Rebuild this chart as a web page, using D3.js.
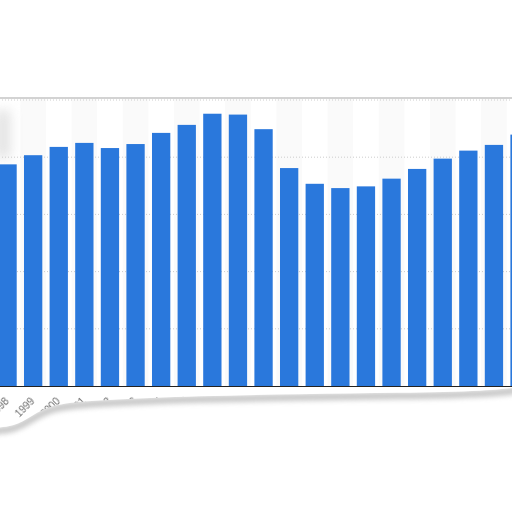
<!DOCTYPE html>
<html>
<head>
<meta charset="utf-8">
<script src="https://d3js.org/d3.v7.min.js"></script>
<style>
    body { margin: 0; background: #fff; }
    svg { display: block; }
    .tick-label { font-family: "Liberation Sans", Arial, sans-serif; font-size: 10px; fill: #666; }
</style>
</head>
<body>
<div id="chart"></div>
<script>
// categories (years) and bar values
const years = d3.range(1998, 2019).map(String);
const values = [77.5, 80.7, 83.6, 85.0, 83.2, 84.6, 88.5, 91.3, 95.2, 94.9, 89.8,
                76.2, 70.7, 69.2, 69.8, 72.5, 75.9, 79.5, 82.3, 84.3, 87.9];
const gridTicks = [0, 20, 40, 60, 80, 100];

const W = 512, H = 512;
const paperTop = 98, baseY = 386;

const svg = d3.select("#chart").append("svg")
    .attr("width", W)
    .attr("height", H);

const defs = svg.append("defs");
defs.append("filter").attr("id", "blur").attr("x", "-20%").attr("y", "-100%")
    .attr("width", "140%").attr("height", "300%")
    .append("feGaussianBlur").attr("stdDeviation", 2.8);
defs.append("filter").attr("id", "soft")
    .append("feGaussianBlur").attr("stdDeviation", 0.7);
defs.append("filter").attr("id", "blob").attr("x", "-100%").attr("y", "-100%")
    .attr("width", "300%").attr("height", "300%")
    .append("feGaussianBlur").attr("stdDeviation", 6);

// torn bottom edge of the paper (decoration only)
const edge = [[-10, 428], [14, 427], [32, 416], [52, 404], [100, 400], [200, 396],
              [300, 394], [400, 393], [490, 391], [520, 387]];
const edgeLine = d3.line().curve(d3.curveBasis);
const paperPath = "M-10," + paperTop + "L520," + paperTop + "L" +
    edgeLine(edge.slice().reverse()).slice(1) + "Z";

defs.append("clipPath").attr("id", "paper").append("path").attr("d", paperPath);

// shadows
svg.append("path")
    .attr("d", edgeLine(edge.map(d => [d[0], d[1] + 3])))
    .attr("fill", "none")
    .attr("stroke", "#9a9a9a")
    .attr("stroke-width", 7)
    .attr("opacity", 0.55)
    .attr("filter", "url(#blur)");
svg.append("line")
    .attr("x1", -10).attr("x2", 520)
    .attr("y1", paperTop - 1).attr("y2", paperTop - 1)
    .attr("stroke", "#b0b0b0")
    .attr("stroke-width", 3)
    .attr("filter", "url(#blur)");

const g = svg.append("g").attr("clip-path", "url(#paper)");

g.append("rect")
    .attr("x", -10).attr("y", paperTop - 2)
    .attr("width", 530).attr("height", 340)
    .attr("fill", "#fff");

const x = d3.scaleBand()
    .domain(years)
    .range([-5.25, -5.25 + 21 * 25.6])
    .paddingInner(0.285)
    .paddingOuter(0.1425);

const y = d3.scaleLinear()
    .domain([0, 100])
    .range([baseY, 100]);

// alternating column bands
g.selectAll("rect.band")
    .data(years.filter((d, i) => i % 2 === 1))
    .enter().append("rect")
    .attr("class", "band")
    .attr("x", d => x(d) - x.step() * x.paddingInner() / 2)
    .attr("y", paperTop)
    .attr("width", x.step())
    .attr("height", baseY - paperTop)
    .attr("fill", "#fafafa");

// blurred y-axis title remnant on the left
g.append("rect")
    .attr("x", -4).attr("y", 110)
    .attr("width", 14).attr("height", 48)
    .attr("fill", "#cfcfcf")
    .attr("opacity", 0.6)
    .attr("filter", "url(#blob)");

// dotted gridlines
g.selectAll("line.grid")
    .data(gridTicks.slice(1))
    .enter().append("line")
    .attr("class", "grid")
    .attr("x1", -10).attr("x2", 520)
    .attr("y1", d => y(d)).attr("y2", d => y(d))
    .attr("stroke", "#cccccc")
    .attr("stroke-width", 1)
    .attr("stroke-dasharray", "1,2");

// bars
g.selectAll("rect.bar")
    .data(values)
    .enter().append("rect")
    .attr("class", "bar")
    .attr("x", (d, i) => x(years[i]))
    .attr("y", d => y(d))
    .attr("width", x.bandwidth())
    .attr("height", d => y(0) - y(d))
    .attr("fill", "#2a78dc");

// baseline
g.append("line")
    .attr("x1", -10).attr("x2", 520)
    .attr("y1", y(0) + 0.5).attr("y2", y(0) + 0.5)
    .attr("stroke", "#222")
    .attr("stroke-width", 1.2);

// x labels (mostly torn away)
g.selectAll("text.tick-label")
    .data(years)
    .enter().append("text")
    .attr("class", "tick-label")
    .attr("text-anchor", "end")
    .attr("transform", d => `translate(${x(d) + x.bandwidth() / 2 + 2},${y(0) + 16}) rotate(-45)`)
    .attr("filter", "url(#soft)")
    .text(d => d);

// top edge line of the paper
svg.append("line")
    .attr("x1", -10).attr("x2", 520)
    .attr("y1", paperTop).attr("y2", paperTop)
    .attr("stroke", "#c4c4c4")
    .attr("stroke-width", 1.5);
</script>
</body>
</html>
